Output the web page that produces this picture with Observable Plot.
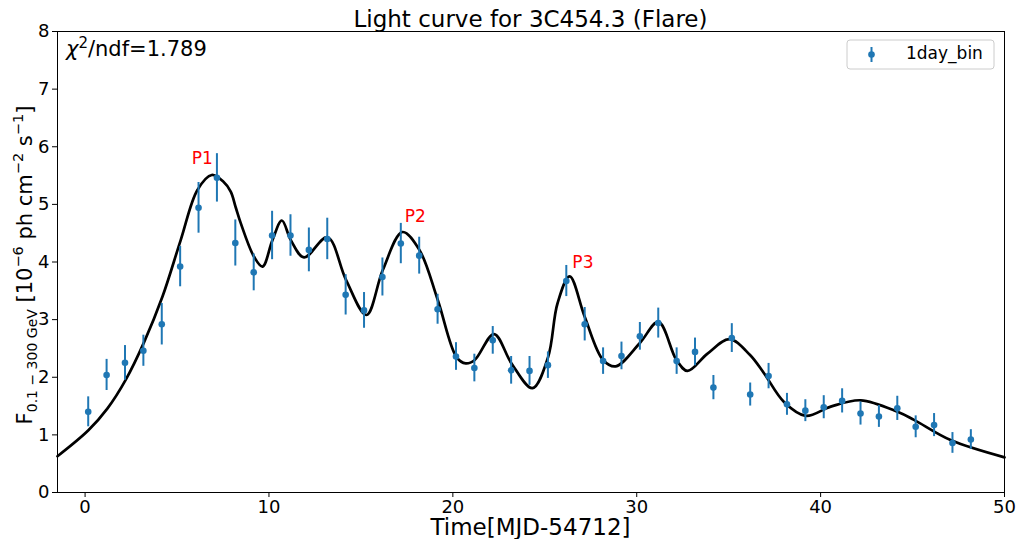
<!DOCTYPE html>
<html>
<head>
<meta charset="utf-8">
<script src="https://cdn.jsdelivr.net/npm/d3@7"></script>
<script src="https://cdn.jsdelivr.net/npm/@observablehq/plot@0.6"></script>
<style>
  html, body { margin: 0; padding: 0; background: white; }
  #chart svg { display: block; }
</style>
</head>
<body>
<div id="chart"></div>
<script>
// ---- Data ----
const times = [0.17, 1.17, 2.17, 3.17, 4.17, 5.17, 6.17, 7.17, 8.17, 9.17,
  10.17, 11.17, 12.17, 13.17, 14.17, 15.17, 16.17, 17.17, 18.17, 19.17,
  20.17, 21.17, 22.17, 23.17, 24.17, 25.17, 26.17, 27.17, 28.17, 29.17,
  30.17, 31.17, 32.17, 33.17, 34.17, 35.17, 36.17, 37.17, 38.17, 39.17,
  40.17, 41.17, 42.17, 43.17, 44.17, 45.17, 46.17, 47.17, 48.17];
const flux = [1.40, 2.04, 2.25, 2.46, 2.92, 3.92, 4.94, 5.46, 4.33, 3.82,
  4.46, 4.46, 4.21, 4.40, 3.43, 3.16, 3.74, 4.32, 4.11, 3.18,
  2.36, 2.16, 2.64, 2.12, 2.11, 2.21, 3.67, 2.92, 2.28, 2.37,
  2.71, 2.94, 2.28, 2.44, 1.82, 2.68, 1.70, 2.02, 1.53, 1.42,
  1.48, 1.59, 1.37, 1.32, 1.46, 1.14, 1.17, 0.86, 0.92];
const fluxErr = [0.26, 0.27, 0.30, 0.27, 0.36, 0.35, 0.44, 0.42, 0.40, 0.32,
  0.42, 0.36, 0.38, 0.36, 0.35, 0.31, 0.33, 0.35, 0.32, 0.26,
  0.24, 0.24, 0.24, 0.24, 0.25, 0.23, 0.27, 0.29, 0.23, 0.24,
  0.24, 0.26, 0.23, 0.24, 0.21, 0.25, 0.20, 0.22, 0.19, 0.19,
  0.20, 0.21, 0.20, 0.19, 0.21, 0.19, 0.20, 0.18, 0.17];

const fitT = [-1.5, 0.18, 1.22, 2.2, 3.21, 4.21, 5.2, 6.11, 6.89, 7.5, 7.92, 8.19, 8.47,
  9.19, 9.65, 10.19, 10.7, 11.19, 11.91, 13.18, 14.19, 15.3, 16.19, 17.26, 18.18,
  19.18, 20.2, 20.7, 21.19, 22.24, 23.19, 24.33, 25.18, 25.69, 26.35, 27.17, 28.17,
  28.86, 30.16, 31.18, 32.16, 32.76, 33.85, 35.05, 36.15, 36.92, 38.01, 39.19,
  40.55, 42.18, 44.18, 45.08, 47.07, 50];
const fitF = [0.63, 1.08, 1.46, 1.95, 2.61, 3.40, 4.38, 5.25, 5.51, 5.40, 5.22, 4.95, 4.67,
  4.09, 3.92, 4.38, 4.72, 4.38, 4.08, 4.43, 3.69, 3.08, 3.86, 4.52, 4.21,
  3.34, 2.35, 2.24, 2.30, 2.75, 2.24, 1.81, 2.35, 3.28, 3.75, 3.05, 2.30,
  2.19, 2.59, 2.96, 2.30, 2.11, 2.41, 2.66, 2.39, 2.07, 1.57, 1.33,
  1.49, 1.60, 1.40, 1.26, 0.91, 0.61];

const peakNames = ["P1", "P2", "P3"];
const peakT = [5.8, 17.38, 26.5];
const peakF = [5.70, 4.70, 3.90];

const xTicks = [0, 10, 20, 30, 40, 50];
const yTicks = [0, 1, 2, 3, 4, 5, 6, 7, 8];

const titleText = "Light curve for 3C454.3 (Flare)";
const xLabel = "Time[MJD-54712]";
const chiValue = "1.789";
const legendLabel = "1day_bin";

// ---- Tables built from the arrays ----
const points = times.map((t, i) => ({t, f: flux[i], lo: flux[i] - fluxErr[i], hi: flux[i] + fluxErr[i]}));
const fit = fitT.map((t, i) => ({t, f: fitF[i]}));
const peaks = peakNames.map((n, i) => ({n, t: peakT[i], f: peakF[i]}));

const blue = "#1f77b4";
const W = 1016, H = 539;
const mL = 57, mR = 12, mT = 31, mB = 47;

const svg = Plot.plot({
  width: W, height: H,
  marginLeft: mL, marginRight: mR, marginTop: mT, marginBottom: mB,
  style: {fontFamily: "DejaVu Sans", fontSize: "18px", color: "black", background: "white"},
  x: {domain: [-1.5, 50]},
  y: {domain: [0, 8]},
  marks: [
    Plot.line(fit, {x: "t", y: "f", curve: "catmull-rom", stroke: "black", strokeWidth: 2.7}),
    Plot.ruleX(points, {x: "t", y1: "lo", y2: "hi", stroke: blue, strokeWidth: 2}),
    Plot.dot(points, {x: "t", y: "f", r: 3.3, fill: blue, stroke: "none"}),
    Plot.text(peaks, {x: "t", y: "f", text: "n", fill: "red", textAnchor: "start", lineAnchor: "bottom", fontSize: 17}),
    Plot.frame({stroke: "black", strokeWidth: 1}),
    Plot.axisX({ticks: xTicks, tickSize: 5, tickPadding: 3, label: null, fontSize: 18}),
    Plot.axisY({ticks: yTicks, tickSize: 5, tickPadding: 3, label: null, fontSize: 18})
  ]
});
document.getElementById("chart").appendChild(svg);

// ---- Text overlays inside the SVG ----
const s = d3.select(svg);
const font = "DejaVu Sans";
const plotCx = mL + (W - mL - mR) / 2;

// enforce tick-label font size
s.selectAll('g[aria-label="x-axis tick label"], g[aria-label="y-axis tick label"]')
  .attr("font-size", 18).style("font-size", "18px")
  .selectAll("text").style("font-size", "18px");

// title
s.append("text").attr("x", plotCx).attr("y", 27)
  .attr("text-anchor", "middle").attr("font-family", font).attr("font-size", 23)
  .attr("fill", "black").text(titleText);

// x label
s.append("text").attr("x", plotCx).attr("y", 535)
  .attr("text-anchor", "middle").attr("font-family", font).attr("font-size", 23)
  .attr("fill", "black").text(xLabel);

// y label with sub/superscripts
const yl = s.append("text")
  .attr("transform", `translate(32,265) rotate(-90)`)
  .attr("text-anchor", "middle").attr("font-family", font).attr("font-size", 21).attr("fill", "black");
yl.append("tspan").text("F");
yl.append("tspan").attr("dy", 5).attr("font-size", 14).text("0.1 \u2212 300 GeV");
yl.append("tspan").attr("dy", -5).text(" [10");
yl.append("tspan").attr("dy", -9).attr("font-size", 14.5).text("\u22126");
yl.append("tspan").attr("dy", 9).text(" ph cm");
yl.append("tspan").attr("dy", -9).attr("font-size", 14.5).text("\u22122");
yl.append("tspan").attr("dy", 9).text(" s");
yl.append("tspan").attr("dy", -9).attr("font-size", 14.5).text("\u22121");
yl.append("tspan").attr("dy", 9).text("]");

// chi2 text
const chi = s.append("text").attr("x", 66).attr("y", 56).attr("text-anchor", "start")
  .attr("font-family", font).attr("font-size", 21).attr("fill", "black");
chi.append("tspan").attr("font-style", "italic").text("\u03c7");
chi.append("tspan").attr("dy", -8).attr("font-size", 15).text("2");
chi.append("tspan").attr("dy", 8).text("/ndf=" + chiValue);

// legend
const lg = s.append("g");
lg.append("rect").attr("x", 847).attr("y", 40).attr("width", 147).attr("height", 29)
  .attr("rx", 3).attr("fill", "white").attr("fill-opacity", 0.8)
  .attr("stroke", "#cccccc").attr("stroke-width", 1);
lg.append("line").attr("x1", 871.5).attr("x2", 871.5).attr("y1", 47).attr("y2", 62)
  .attr("stroke", blue).attr("stroke-width", 2);
lg.append("circle").attr("cx", 871.5).attr("cy", 54.5).attr("r", 3.3).attr("fill", blue);
lg.append("text").attr("x", 906).attr("y", 59).attr("text-anchor", "start").attr("font-family", font)
  .attr("font-size", 17).attr("fill", "black").text(legendLabel);
</script>
</body>
</html>
